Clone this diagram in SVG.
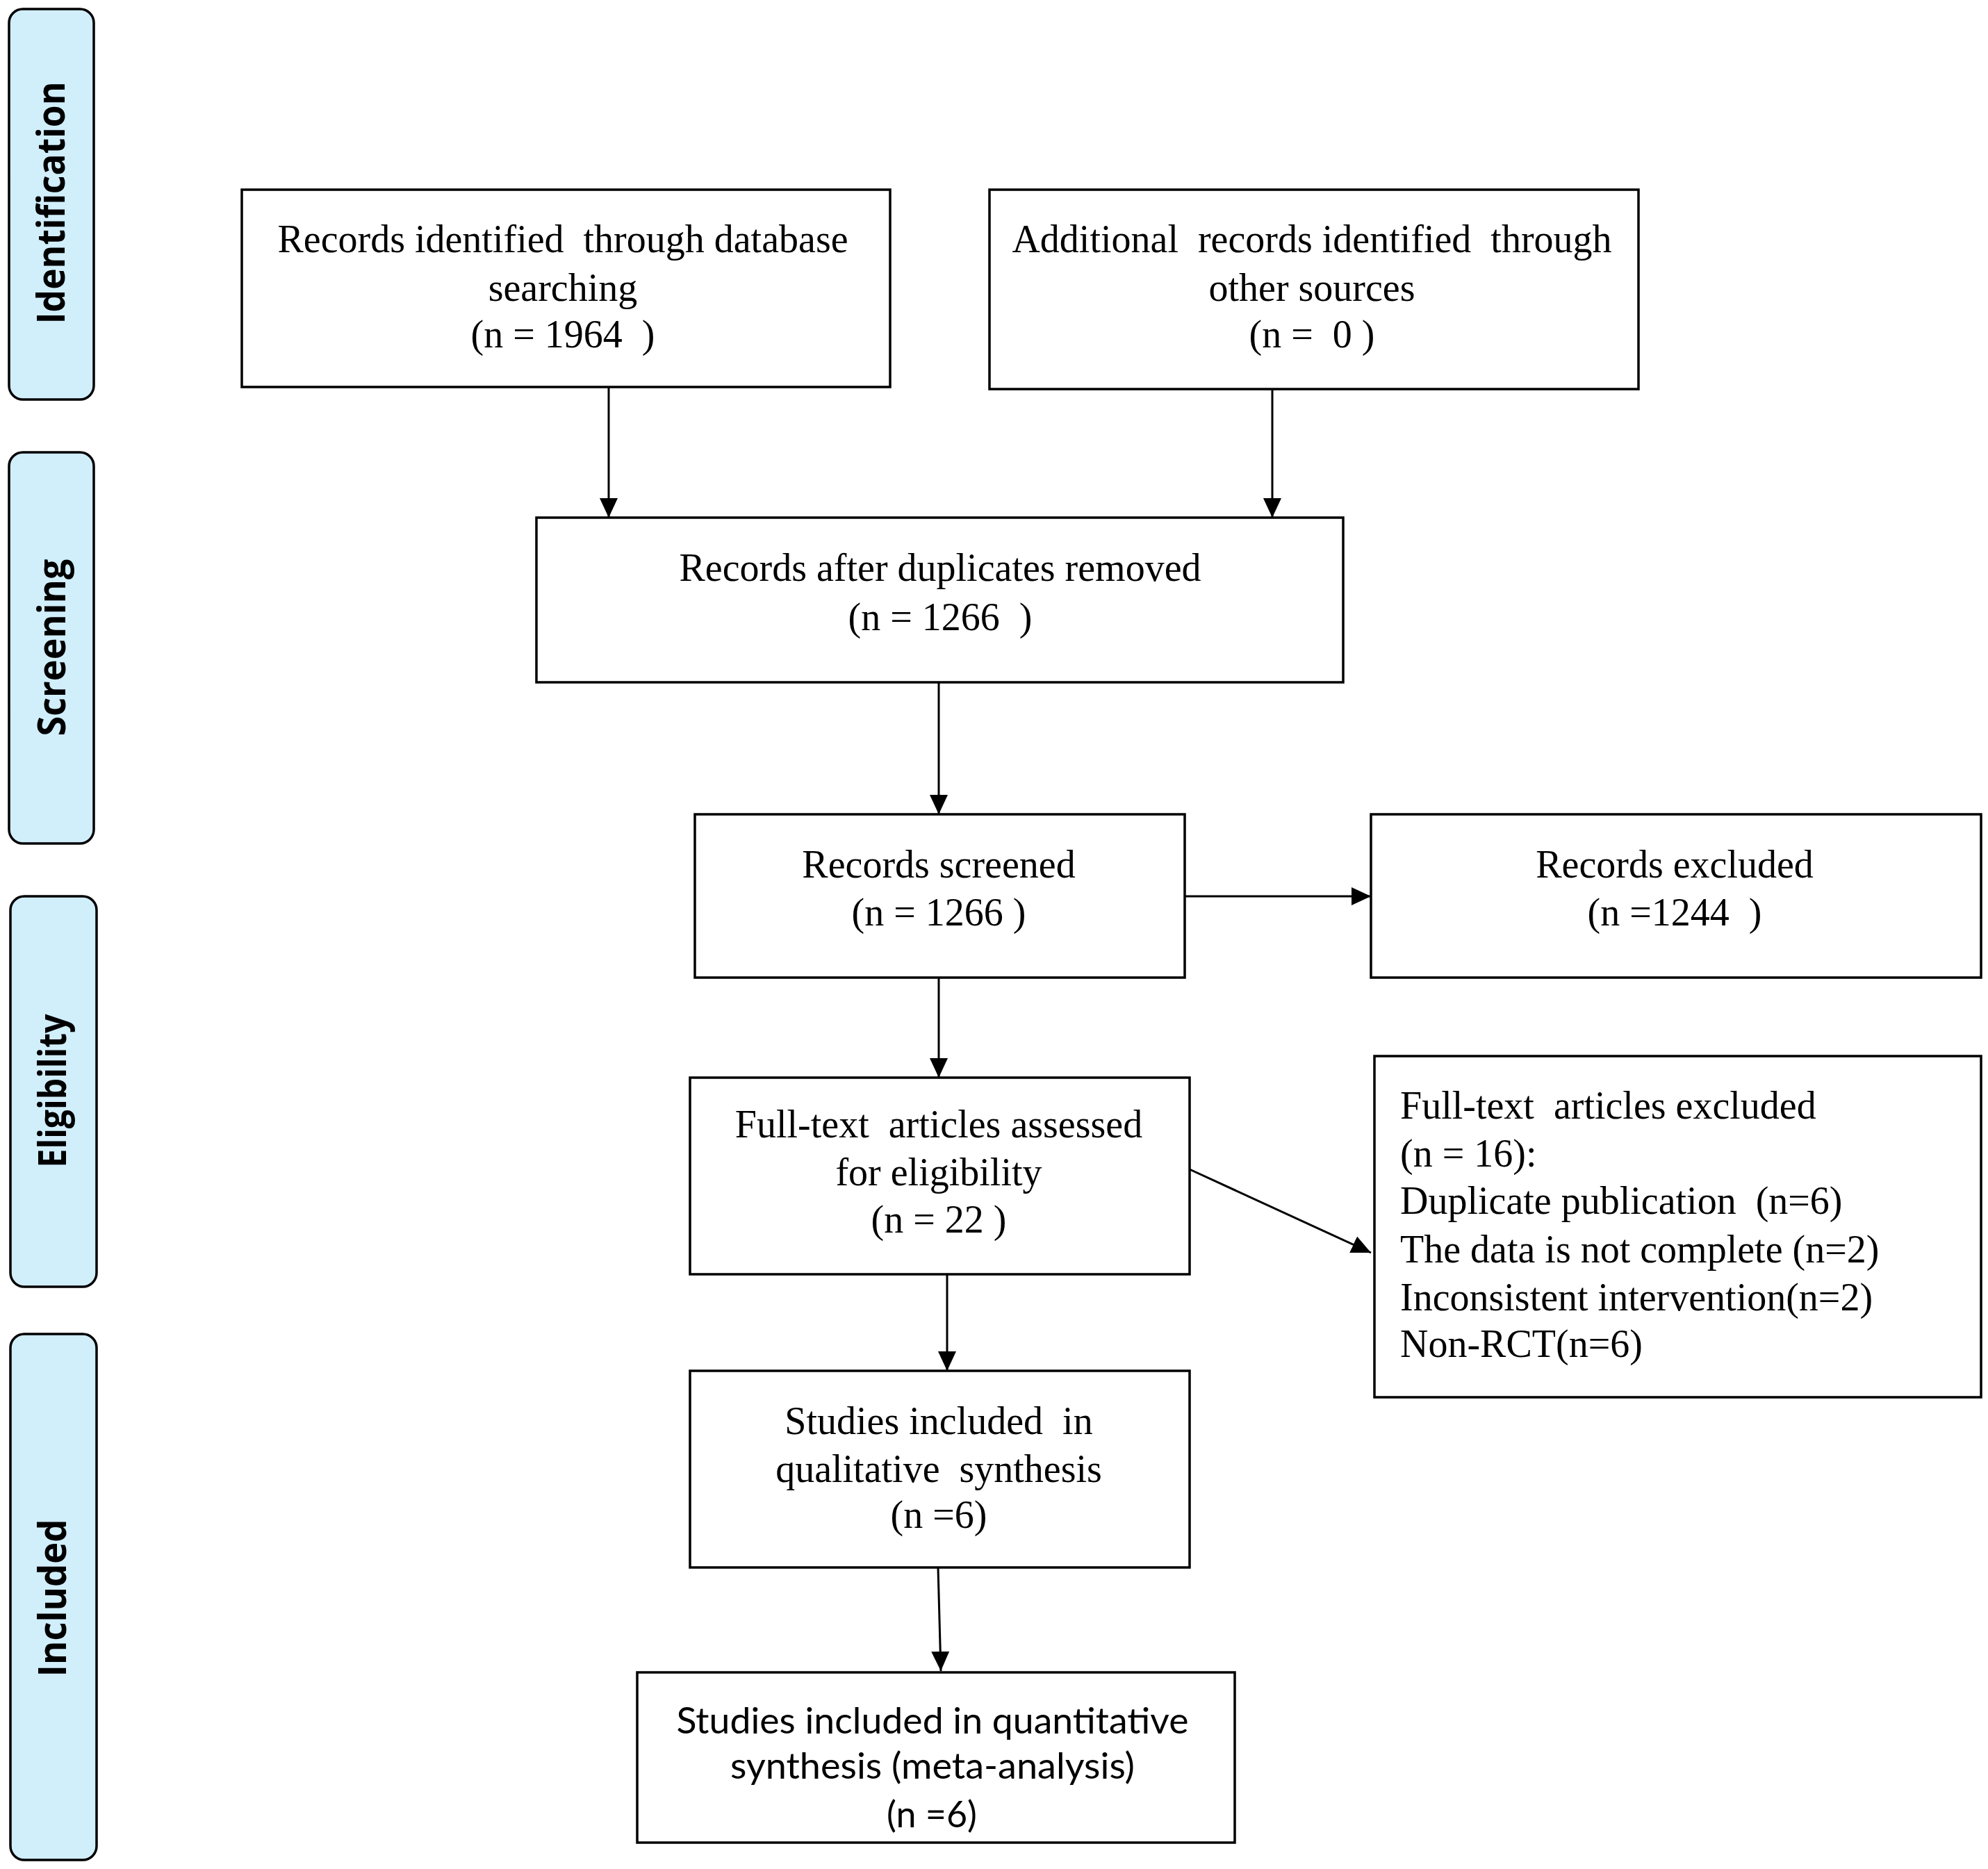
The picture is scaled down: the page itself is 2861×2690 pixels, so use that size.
<svg xmlns="http://www.w3.org/2000/svg" width="2861" height="2690" viewBox="0 0 2861 2690">
<style>
.bg{fill:#ffffff}
.box{fill:#ffffff;stroke:#000000;stroke-width:3.5}
.bar{fill:#d1eefb;stroke:#000000;stroke-width:3.5}
.t{font-family:"Liberation Serif","Times New Roman",serif;font-size:56px;fill:#000000}
.c{text-anchor:middle}
.s{font-family:Lato,"Open Sans","Liberation Sans",sans-serif;font-size:52px;fill:#000000;text-anchor:middle}
.lab{font-family:"Open Sans","DejaVu Sans",sans-serif;font-weight:bold;font-size:56px;fill:#000000;text-anchor:middle}
.ln{stroke:#000000;stroke-width:3;fill:none;marker-end:url(#arr)}
</style>
<defs>
<marker id="arr" viewBox="0 0 28 26" refX="28" refY="13" markerWidth="28" markerHeight="26" markerUnits="userSpaceOnUse" orient="auto">
<path d="M0,0 L28,13 L0,26 z" fill="#000000"/>
</marker>
</defs>
<rect class="bg" x="0" y="0" width="2861" height="2690"/>

<g id="bar-identification">
<rect class="bar" x="13" y="13" width="122" height="562" rx="20" ry="20"/>
<text class="lab" x="93" y="292" transform="rotate(-90 93 292)" textLength="349" lengthAdjust="spacingAndGlyphs">Identification</text>
</g>
<g id="bar-screening">
<rect class="bar" x="13" y="651" width="122" height="563" rx="20" ry="20"/>
<text class="lab" x="94" y="932" transform="rotate(-90 94 932)" textLength="255" lengthAdjust="spacingAndGlyphs">Screening</text>
</g>
<g id="bar-eligibility">
<rect class="bar" x="15" y="1290" width="124" height="562" rx="20" ry="20"/>
<text class="lab" x="95" y="1570" transform="rotate(-90 95 1570)" textLength="221" lengthAdjust="spacingAndGlyphs">Eligibility</text>
</g>
<g id="bar-included">
<rect class="bar" x="15" y="1920" width="124" height="757" rx="20" ry="20"/>
<text class="lab" x="95" y="2300" transform="rotate(-90 95 2300)" textLength="227" lengthAdjust="spacingAndGlyphs">Included</text>
</g>

<g id="connectors">
<path class="ln" d="M876,557 L876,745"/>
<path class="ln" d="M1831,560 L1831,745"/>
<path class="ln" d="M1351,982 L1351,1172"/>
<path class="ln" d="M1705,1290 L1973,1290"/>
<path class="ln" d="M1351,1407 L1351,1551"/>
<path class="ln" d="M1712,1683 L1973,1803"/>
<path class="ln" d="M1363,1834 L1363,1973"/>
<path class="ln" d="M1350,2256 L1354,2405"/>
</g>

<g id="node-database">
<rect class="box" x="348" y="273" width="933" height="284"/>
<text class="t c" x="810" y="363">Records identified &#160;through database</text>
<text class="t c" x="810" y="433">searching</text>
<text class="t c" x="810" y="500">(n = 1964 &#160;)</text>
</g>
<g id="node-other">
<rect class="box" x="1424" y="273" width="934" height="287"/>
<text class="t c" x="1888" y="363">Additional &#160;records identified &#160;through</text>
<text class="t c" x="1888" y="433">other sources</text>
<text class="t c" x="1888" y="500">(n = &#160;0 )</text>
</g>
<g id="node-duplicates">
<rect class="box" x="772" y="745" width="1161" height="237"/>
<text class="t c" x="1353" y="836">Records after duplicates removed</text>
<text class="t c" x="1353" y="907">(n = 1266 &#160;)</text>
</g>
<g id="node-screened">
<rect class="box" x="1000" y="1172" width="705" height="235"/>
<text class="t c" x="1351" y="1263">Records screened</text>
<text class="t c" x="1351" y="1332">(n = 1266 )</text>
</g>
<g id="node-excluded">
<rect class="box" x="1973" y="1172" width="878" height="235"/>
<text class="t c" x="2410" y="1263">Records excluded</text>
<text class="t c" x="2410" y="1332">(n =1244 &#160;)</text>
</g>
<g id="node-fulltext">
<rect class="box" x="993" y="1551" width="719" height="283"/>
<text class="t c" x="1351" y="1637">Full-text &#160;articles assessed</text>
<text class="t c" x="1351" y="1706">for eligibility</text>
<text class="t c" x="1351" y="1774">(n = 22 )</text>
</g>
<g id="node-fulltext-excluded">
<rect class="box" x="1978" y="1520" width="873" height="491"/>
<text class="t" x="2015" y="1610">Full-text &#160;articles excluded</text>
<text class="t" x="2015" y="1679">(n = 16):</text>
<text class="t" x="2015" y="1747">Duplicate publication &#160;(n=6)</text>
<text class="t" x="2015" y="1817">The data is not complete (n=2)</text>
<text class="t" x="2015" y="1886">Inconsistent intervention(n=2)</text>
<text class="t" x="2015" y="1953">Non-RCT(n=6)</text>
</g>
<g id="node-qualitative">
<rect class="box" x="993" y="1973" width="719" height="283"/>
<text class="t c" x="1351" y="2064">Studies included &#160;in</text>
<text class="t c" x="1351" y="2133">qualitative &#160;synthesis</text>
<text class="t c" x="1351" y="2199">(n =6)</text>
</g>
<g id="node-quantitative">
<rect class="box" x="917" y="2407" width="860" height="245"/>
<text class="s" x="1342" y="2495" textLength="737" lengthAdjust="spacingAndGlyphs">Studies included in quantitative</text>
<text class="s" x="1342" y="2560" textLength="582" lengthAdjust="spacingAndGlyphs">synthesis (meta-analysis)</text>
<text class="s" x="1341" y="2630">(n =6)</text>
</g>
</svg>
